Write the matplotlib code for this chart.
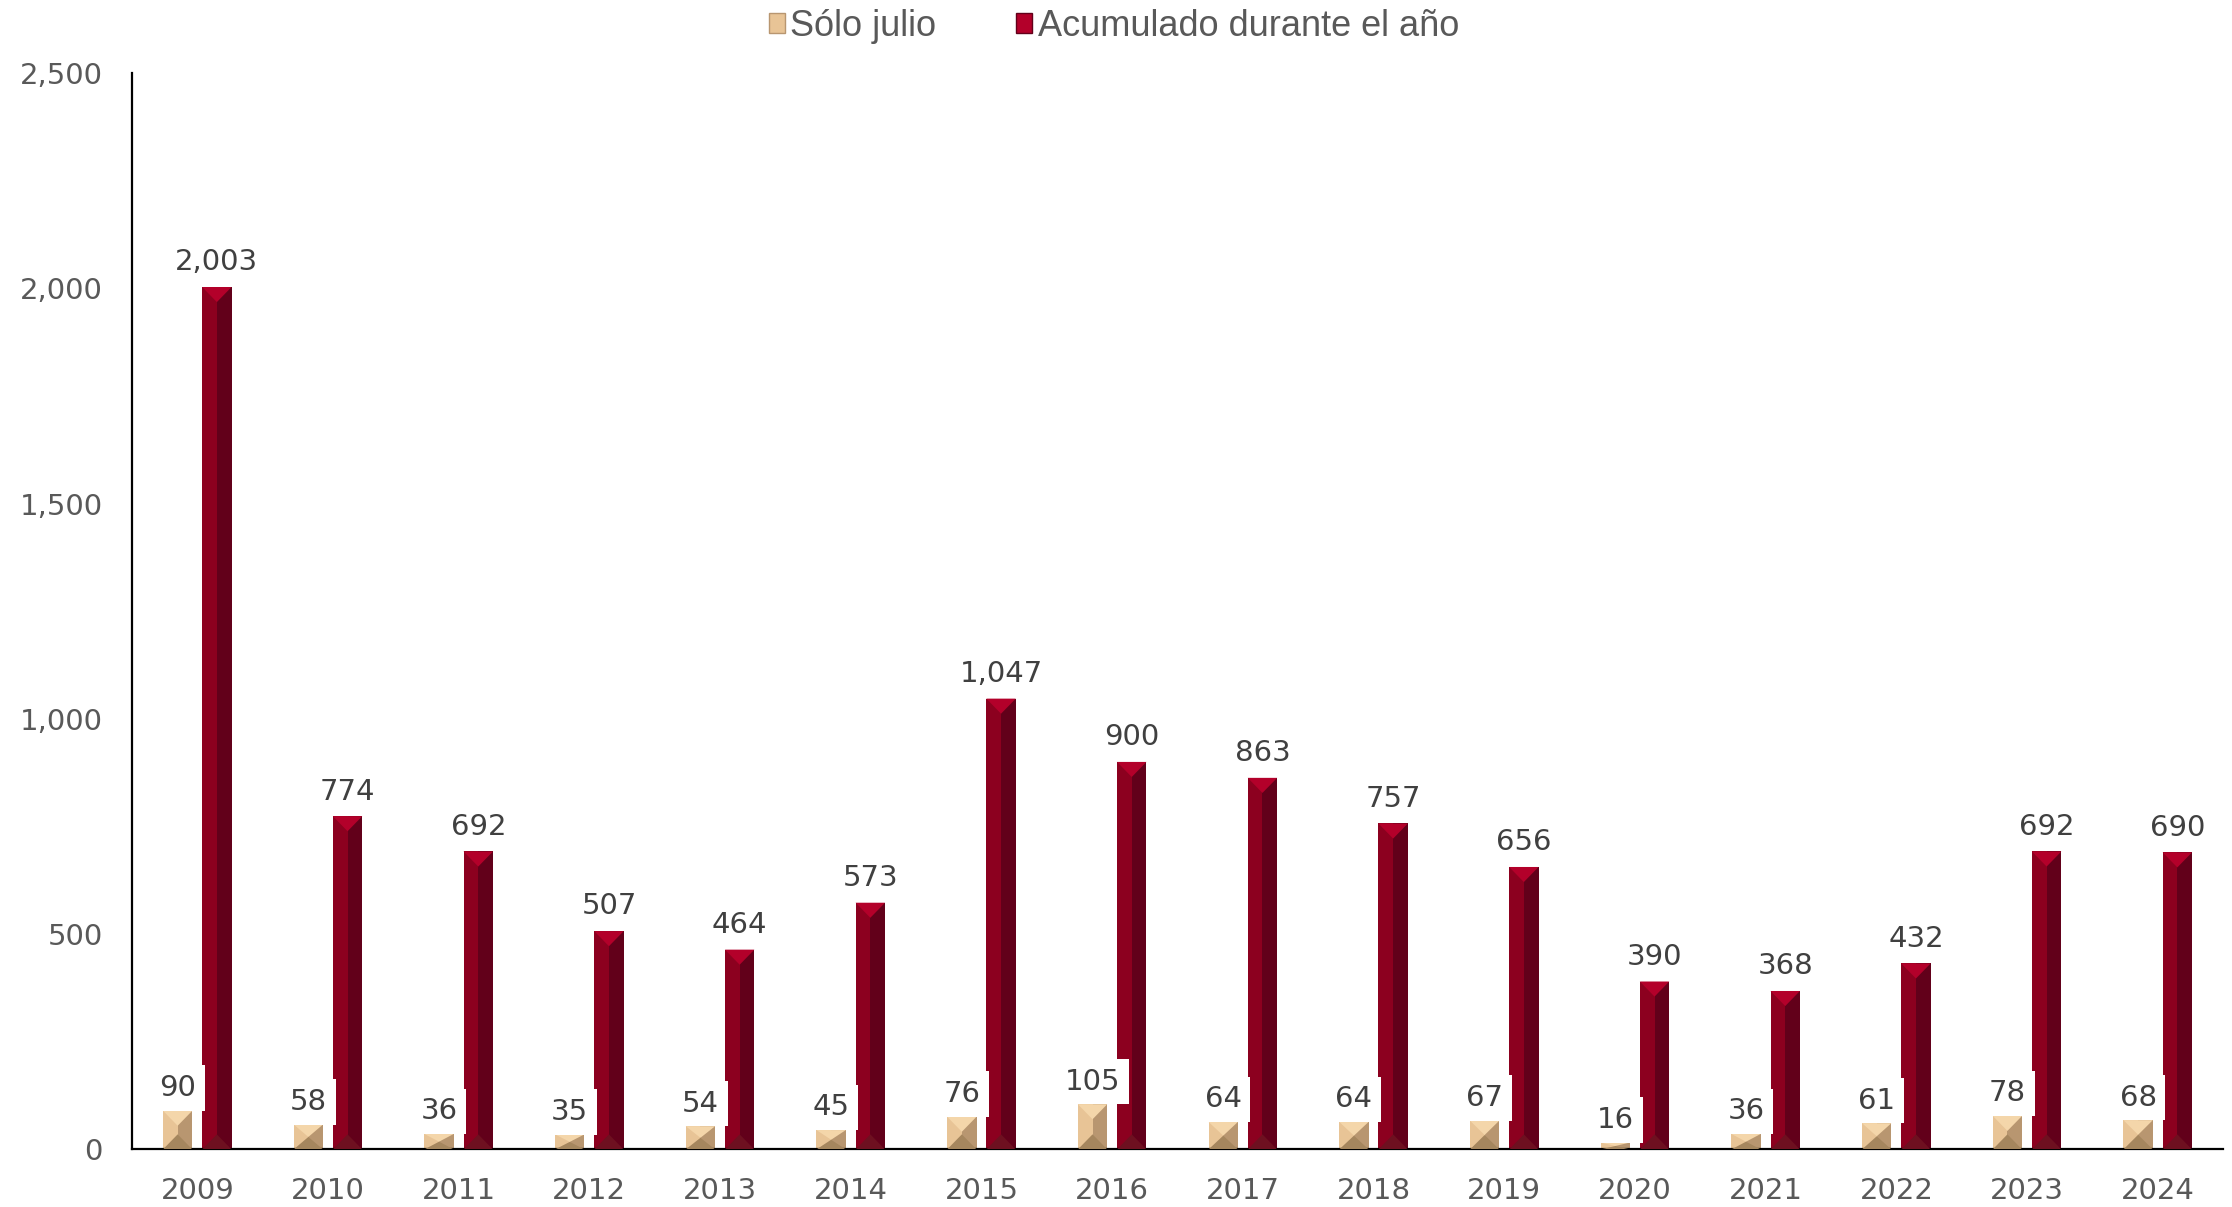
import matplotlib
matplotlib.use("Agg")
import matplotlib.pyplot as plt
import numpy as np
from matplotlib.patches import Patch, Polygon

# Data
years = ["2009", "2010", "2011", "2012", "2013", "2014", "2015", "2016",
         "2017", "2018", "2019", "2020", "2021", "2022", "2023", "2024"]
solo_julio = [90, 58, 36, 35, 54, 45, 76, 105, 64, 64, 67, 16, 36, 61, 78, 68]
acumulado = [2003, 774, 692, 507, 464, 573, 1047, 900, 863, 757, 656, 390, 368, 432, 692, 690]

plt.rcParams["font.family"] = "DejaVu Sans"

fig = plt.figure(figsize=(22.32, 12.07), dpi=100)
ax = fig.add_axes([0.0591, 0.0477, 0.9369, 0.8918])

x = np.arange(len(years))
w = 0.225
off = 0.15
bevel = 35  # depth of the bevel triangles, in data units

# colours for the bevelled look
red_left, red_right, red_top, red_bot = "#8c001f", "#62001a", "#b3002a", "#6e1020"
tan_left, tan_right, tan_top, tan_bot = "#e8c496", "#b89670", "#f4d6aa", "#a5865e"

# Sólo julio bars
ax.bar(x - off, solo_julio, w, color=tan_left, zorder=2)
ax.bar(x - off, solo_julio, w / 2, align="edge", color=tan_right, zorder=2)
# Acumulado bars
ax.bar(x + off, acumulado, w, color=red_left, zorder=2)
ax.bar(x + off, acumulado, w / 2, align="edge", color=red_right, zorder=2)

for xi, v in zip(x - off, solo_julio):
    d = min(bevel, v / 2)
    ax.add_patch(Polygon([(xi - w / 2, v), (xi + w / 2, v), (xi, v - d)],
                         closed=True, color=tan_top, lw=0, zorder=3))
    ax.add_patch(Polygon([(xi - w / 2, 0), (xi + w / 2, 0), (xi, d)],
                         closed=True, color=tan_bot, lw=0, zorder=3))
for xi, v in zip(x + off, acumulado):
    ax.add_patch(Polygon([(xi - w / 2, v), (xi + w / 2, v), (xi, v - bevel)],
                         closed=True, color=red_top, lw=0, zorder=3))
    ax.add_patch(Polygon([(xi - w / 2, 0), (xi + w / 2, 0), (xi, bevel)],
                         closed=True, color=red_bot, lw=0, zorder=3))

# Data labels
for xi, v in zip(x + off, acumulado):
    ax.annotate(f"{v:,}", (xi, v), xytext=(0, 12), textcoords="offset points",
                ha="center", va="baseline", fontsize=21, color="#404040", zorder=5)
for xi, v in zip(x - off, solo_julio):
    ax.annotate(f"{v:,}", (xi, v), xytext=(0, 10.5), textcoords="offset points",
                ha="center", va="baseline", fontsize=21, color="#404040", zorder=6,
                bbox=dict(boxstyle="square,pad=0.3", fc="white", ec="none"))

# Axes
ax.set_xlim(-0.5, len(years) - 0.5)
ax.set_ylim(0, 2500)
ax.set_yticks([0, 500, 1000, 1500, 2000, 2500])
ax.yaxis.set_major_formatter(plt.FuncFormatter(lambda v, _: f"{int(v):,}"))
ax.set_xticks(x)
ax.set_xticklabels(years)
ax.tick_params(axis="y", length=0, pad=21, labelsize=21, labelcolor="#595959")
ax.tick_params(axis="x", length=0, pad=20, labelsize=21, labelcolor="#595959")
for s in ["top", "right"]:
    ax.spines[s].set_visible(False)
ax.spines["left"].set_linewidth(1.6)
ax.spines["bottom"].set_linewidth(1.6)
ax.spines["left"].set_color("black")
ax.spines["bottom"].set_color("black")

# Legend
handles = [Patch(facecolor=tan_left, edgecolor=tan_right, label="Sólo julio"),
           Patch(facecolor=red_top, edgecolor=red_right, label="Acumulado durante el año")]
fig.legend(handles=handles, loc="center", bbox_to_anchor=(0.499, 0.978), ncol=2,
           frameon=False, handlelength=0.45, handleheight=0.45, handletextpad=0.15,
           columnspacing=2.2,
           prop={"family": "Liberation Sans", "size": 26},
           labelcolor="#595959")

fig.savefig("out.png", dpi=100)
